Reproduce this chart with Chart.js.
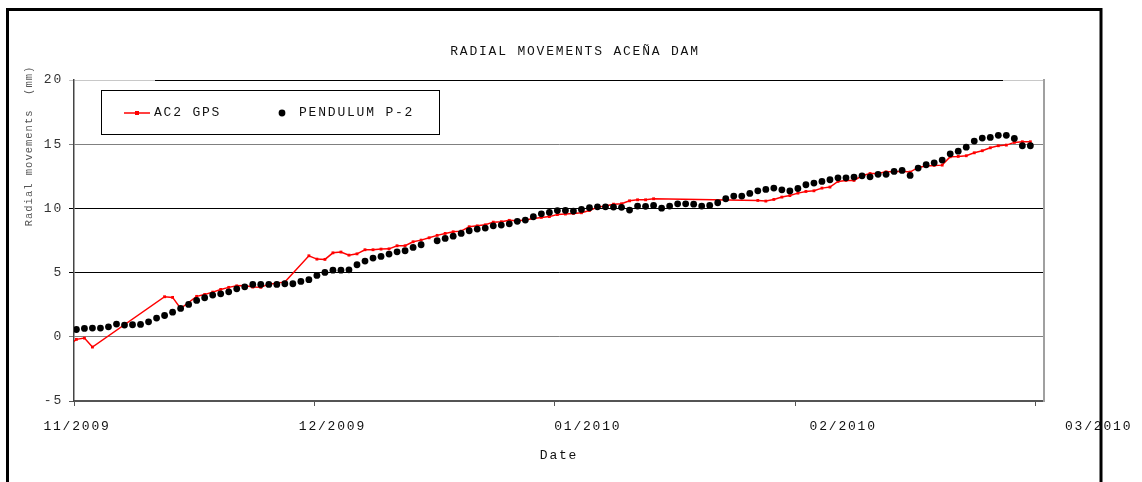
<!DOCTYPE html>
<html>
<head>
<meta charset="utf-8">
<title>Radial movements Aceña dam</title>
<script src="https://cdn.jsdelivr.net/npm/chart.js@4.4.1/dist/chart.umd.min.js"></script>
<style>
html, body { margin: 0; padding: 0; background: #fff; }
#quadro { width: 1142px; height: 482px; position: relative; }
</style>
</head>
<body>
<div id="quadro"><canvas id="grafico"></canvas></div>
<script>
// --- DADOS ---
// dia 0 = 01/11/2009, um valor por dia, null = sem leitura
const primeiroDia = -1;
const rotulosMes = ['11/2009', '12/2009', '01/2010', '02/2010', '03/2010'];
const diasPorRotulo = 30;

const gps = [
    -0.7,
    -0.2, -0.1, -0.8, null, null, null, null, null, null, null,
    null, 3.12, 3.07, 2.2, null, 3.15, 3.3, 3.48, 3.69, 3.85,
    3.97, 4.0, 3.87, 3.85, 4.1, 4.18, 4.26, null, null, 6.31,
    6.05, 6.03, 6.54, 6.6, 6.36, 6.46, 6.78, 6.78, 6.83, 6.85,
    7.09, 7.09, 7.4, 7.53, 7.71, 7.9, 8.05, 8.18, 8.23, 8.57,
    8.64, 8.72, 8.93, 8.96, 9.07, 9.03, 9.09, 9.22, 9.3, 9.36,
    9.52, 9.56, 9.61, 9.66, 9.84, 10.1, 10.18, 10.33, 10.36, 10.59,
    10.67, 10.67, 10.75, null, null, null, null, null, null, null,
    null, null, null, null, null, 10.62, 10.57, 10.7, 10.88, 11.0,
    11.19, 11.32, 11.37, 11.58, 11.66, 12.1, 12.18, 12.18, 12.54, 12.72,
    12.72, 12.85, 12.85, 12.9, 12.83, 13.19, 13.3, 13.35, 13.37, 14.02,
    14.05, 14.1, 14.33, 14.49, 14.72, 14.88, 14.93, 15.14, 15.19, 15.19
];

const pendulo = [
    null,
    0.57, 0.65, 0.68, 0.68, 0.78, 0.99, 0.91, 0.94, 0.96, 1.17,
    1.46, 1.66, 1.92, 2.21, 2.52, 2.83, 3.04, 3.25, 3.35, 3.5,
    3.74, 3.89, 4.08, 4.08, 4.08, 4.08, 4.13, 4.13, 4.31, 4.45,
    4.78, 5.01, 5.19, 5.19, 5.22, 5.61, 5.9, 6.13, 6.26, 6.44,
    6.62, 6.7, 6.96, 7.17, null, 7.48, 7.66, 7.84, 8.05, 8.26,
    8.39, 8.47, 8.64, 8.7, 8.8, 8.99, 9.09, 9.35, 9.58, 9.69,
    9.83, 9.84, 9.79, 9.92, 10.05, 10.12, 10.12, 10.1, 10.08, 9.87,
    10.18, 10.16, 10.23, 10.02, 10.18, 10.36, 10.36, 10.33, 10.18, 10.23,
    10.44, 10.75, 10.96, 10.96, 11.17, 11.37, 11.48, 11.58, 11.45, 11.36,
    11.55, 11.84, 11.97, 12.1, 12.23, 12.38, 12.38, 12.44, 12.54, 12.46,
    12.65, 12.65, 12.88, 12.96, 12.57, 13.14, 13.4, 13.55, 13.76, 14.25,
    14.46, 14.77, 15.24, 15.48, 15.53, 15.69, 15.69, 15.45, 14.88, 14.88
];

const dias = gps.map((_, i) => primeiroDia + i);

// --- ESTILO ---
const LETRA = "'Liberation Mono', 'DejaVu Sans Mono', monospace";
const ESPACO_LETRA = '1.8px';
const COR_TEXTO = '#111';
Chart.defaults.font.family = LETRA;
Chart.defaults.font.size = 13;
Chart.defaults.color = COR_TEXTO;

function pontos(serie) {
    // o ponto fica um pouco depois do início do dia, como no original
    return dias.map((d, i) => ({ x: d + 0.3, y: serie[i] }));
}

function corGrade(ctx) {
    const v = ctx.tick ? ctx.tick.value : null;
    if (v === 10 || v === 5) return '#000';
    if (v === 20) return '#c8c8c8';
    if (v === -5) return '#555';
    return '#808080';
}

// espaçamento de letras parecido com o do Excel
const espacamento = {
    id: 'espacamento',
    beforeLayout(chart) { chart.ctx.letterSpacing = ESPACO_LETRA; },
    beforeDraw(chart) { chart.ctx.letterSpacing = ESPACO_LETRA; }
};

// rótulos do eixo x, legenda, título do eixo y e moldura
const extras = {
    id: 'extras',
    afterDraw(chart) {
        const ctx = chart.ctx;
        const area = chart.chartArea;
        const sx = chart.scales.x;
        ctx.save();
        ctx.letterSpacing = ESPACO_LETRA;
        ctx.font = '13px ' + LETRA;
        ctx.fillStyle = COR_TEXTO;
        ctx.textAlign = 'center';
        ctx.textBaseline = 'middle';

        // rótulos dos meses (no original ficam um pouco esticados em relação às marcas)
        sx.ticks.forEach((t, i) => {
            const px = sx.getPixelForValue(t.value);
            const xTexto = area.left + (px - area.left) * 1.062 + 3;
            ctx.fillText(rotulosMes[i] || '', xTexto, 427);
        });

        // linha superior preta
        ctx.strokeStyle = '#000';
        ctx.lineWidth = 1;
        ctx.beginPath();
        ctx.moveTo(155, area.top + 0.5);
        ctx.lineTo(1003, area.top + 0.5);
        ctx.stroke();

        // legenda
        const [dsGps, dsPend] = chart.data.datasets;
        ctx.strokeStyle = '#000';
        ctx.strokeRect(101.5, 90.5, 338, 44);
        const yLeg = 113;
        ctx.strokeStyle = dsGps.borderColor;
        ctx.lineWidth = 1.5;
        ctx.beginPath();
        ctx.moveTo(124, yLeg);
        ctx.lineTo(150, yLeg);
        ctx.stroke();
        ctx.fillStyle = dsGps.backgroundColor;
        ctx.fillRect(135, yLeg - 2, 4, 4);
        ctx.fillStyle = dsPend.backgroundColor;
        ctx.beginPath();
        ctx.arc(282, yLeg, 3.4, 0, Math.PI * 2);
        ctx.fill();
        ctx.fillStyle = COR_TEXTO;
        ctx.textAlign = 'left';
        ctx.fillText(dsGps.label, 154, yLeg);
        ctx.fillText(dsPend.label, 299, yLeg);

        // título do eixo y
        ctx.save();
        ctx.translate(29, 146);
        ctx.rotate(-Math.PI / 2);
        ctx.textAlign = 'center';
        ctx.font = '10.5px ' + LETRA;
        ctx.letterSpacing = '1px';
        ctx.fillStyle = '#555';
        ctx.fillText('Radial movements  (mm)', 0, 0);
        ctx.restore();

        // moldura externa
        ctx.strokeStyle = '#000';
        ctx.lineWidth = 3;
        ctx.strokeRect(7.5, 9.5, 1093.5, 600);
        ctx.restore();
    }
};

const ctx = document.getElementById('grafico').getContext('2d');

const meuGrafico = new Chart(ctx, {
    type: 'line',
    data: {
        datasets: [
            {
                label: 'AC2 GPS',
                data: pontos(gps),
                borderColor: '#ff0000',
                backgroundColor: '#ff0000',
                borderWidth: 1.5,
                pointStyle: 'rect',
                pointRadius: 2,
                pointBorderWidth: 0,
                spanGaps: true,
                tension: 0,
                order: 1
            },
            {
                label: 'PENDULUM P-2',
                data: pontos(pendulo),
                showLine: false,
                borderColor: '#000',
                backgroundColor: '#000',
                pointRadius: 3.4,
                pointBorderWidth: 0,
                order: 0
            }
        ]
    },
    options: {
        responsive: true,
        maintainAspectRatio: false,
        devicePixelRatio: 1,
        animation: false,
        events: [],
        layout: { padding: { left: 8, right: 0, top: 0, bottom: 0 } },
        plugins: {
            legend: { display: false },
            tooltip: { enabled: false },
            title: {
                display: true,
                text: 'RADIAL MOVEMENTS ACEÑA DAM',
                color: COR_TEXTO,
                font: { size: 13, weight: 'normal' },
                padding: { top: 44, bottom: 20.4 }
            }
        },
        scales: {
            x: {
                type: 'linear',
                min: 0,
                max: 121,
                afterBuildTicks: s => {
                    s.ticks = rotulosMes.map((_, i) => ({ value: i * diasPorRotulo }));
                },
                afterFit: s => { s.height = 81; },
                ticks: { display: false },
                grid: { drawOnChartArea: false, drawTicks: true, tickLength: 5, color: '#555' },
                border: { color: '#555', width: 1.5 },
                title: {
                    display: true,
                    text: 'Date',
                    color: COR_TEXTO,
                    font: { size: 13 },
                    padding: { top: 0, bottom: 19 }
                }
            },
            y: {
                min: -5,
                max: 20,
                afterFit: s => { s.width = 66; },
                ticks: { stepSize: 5, color: '#333', padding: 6 },
                grid: { color: corGrade, tickLength: 5 },
                border: { color: '#444', width: 1.5 }
            },
            direita: {
                position: 'right',
                afterFit: s => { s.width = 98; },
                ticks: { display: false },
                grid: { display: false },
                border: { color: '#a0a0a0', width: 2 }
            }
        }
    },
    plugins: [espacamento, extras]
});
</script>
</body>
</html>
